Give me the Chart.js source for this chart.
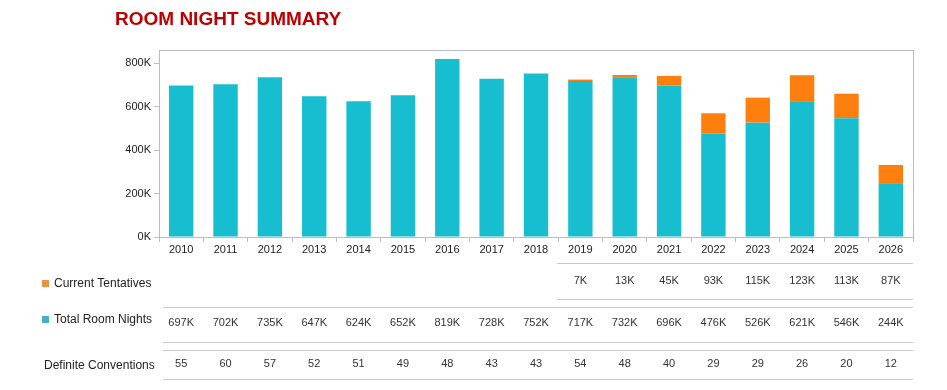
<!DOCTYPE html>
<html>
<head>
<meta charset="utf-8">
<script src="https://cdn.jsdelivr.net/npm/chart.js@4/dist/chart.umd.min.js"></script>
<style>
  body { margin: 0; background: #fff; }
  #wrap { position: relative; width: 947px; height: 390px; }
  #title {
    position: absolute; left: 115px; top: 8px; margin: 0;
    font: bold 19px "Liberation Sans", Arial, sans-serif;
    color: #c00000;
  }
  canvas { position: absolute; left: 0; top: 0; }
</style>
</head>
<body>
<div id="wrap">
  <canvas id="roomChart" width="947" height="390"></canvas>
  <h1 id="title">ROOM NIGHT SUMMARY</h1>
</div>
<script>
const years = ["2010","2011","2012","2013","2014","2015","2016","2017","2018","2019","2020","2021","2022","2023","2024","2025","2026"];
// values in thousands
const totalRoomNights = [697, 702, 735, 647, 624, 652, 819, 728, 752, 717, 732, 696, 476, 526, 621, 546, 244];
const currentTentatives = [null, null, null, null, null, null, null, null, null, 7, 13, 45, 93, 115, 123, 113, 87];
const definiteConventions = [55, 60, 57, 52, 51, 49, 48, 43, 43, 54, 48, 40, 29, 29, 26, 20, 12];
const yTicks = [0, 200, 400, 600, 800];

const teal = "#17becf";
const orange = "#ff7f0e";
const lineGray = "#c8c8c8";
const font = '"Liberation Sans", Arial, sans-serif';

// frame around the plot area + the summary table under it
const tablePlugin = {
  id: "tablePlugin",
  afterDraw(chart) {
    const ctx = chart.ctx;
    const area = chart.chartArea;
    const x = chart.scales.x;

    ctx.save();
    ctx.strokeStyle = "#bdbdbd";
    ctx.lineWidth = 1;
    ctx.strokeRect(area.left + 0.5, area.top + 0.5, area.right - area.left, area.bottom - area.top);

    const rowLine = (x0, y) => {
      ctx.strokeStyle = lineGray;
      ctx.beginPath();
      ctx.moveTo(x0, y + 0.5);
      ctx.lineTo(area.right, y + 0.5);
      ctx.stroke();
    };

    // Current Tentatives row
    const firstTent = currentTentatives.findIndex(v => v !== null);
    const tentLeft = x.getPixelForValue(firstTent) - (x.getPixelForValue(1) - x.getPixelForValue(0)) / 2 - 1;
    rowLine(tentLeft, 263);
    rowLine(tentLeft, 299);
    // Total Room Nights row
    rowLine(163, 307);
    rowLine(163, 342);
    // Definite Conventions row
    rowLine(163, 350);
    rowLine(163, 379);

    ctx.fillStyle = "#333";
    ctx.font = "11px " + font;
    ctx.textAlign = "center";
    ctx.textBaseline = "middle";
    years.forEach((yr, i) => {
      const px = x.getPixelForValue(i);
      if (currentTentatives[i] !== null) ctx.fillText(currentTentatives[i] + "K", px, 281);
      ctx.fillText(totalRoomNights[i] + "K", px, 323);
      ctx.fillText(String(definiteConventions[i]), px, 364);
    });

    // row labels
    ctx.font = "12px " + font;
    ctx.textAlign = "left";
    ctx.fillStyle = "#e8914a";
    ctx.fillRect(42, 280, 7, 7);
    ctx.fillStyle = "#4bacc6";
    ctx.fillRect(42, 316, 7, 7);
    ctx.fillStyle = "#222";
    ctx.fillText("Current Tentatives", 54, 284);
    ctx.fillText("Total Room Nights", 54, 320);
    ctx.fillText("Definite Conventions", 44, 366);
    ctx.restore();
  }
};

new Chart(document.getElementById("roomChart"), {
  type: "bar",
  data: {
    labels: years,
    datasets: [
      {
        label: "Total Room Nights",
        data: totalRoomNights.map(v => v * 1000),
        backgroundColor: teal,
        barPercentage: 0.55,
        categoryPercentage: 1
      },
      {
        label: "Current Tentatives",
        data: currentTentatives.map(v => v === null ? null : v * 1000),
        backgroundColor: orange,
        barPercentage: 0.55,
        categoryPercentage: 1
      }
    ]
  },
  options: {
    responsive: false,
    animation: false,
    layout: { padding: { top: 50, right: 34, bottom: 133, left: 0 } },
    plugins: {
      legend: { display: false },
      tooltip: { enabled: false }
    },
    scales: {
      x: {
        stacked: true,
        afterFit: s => { s.height = 20; },
        border: { color: "#bdbdbd" },
        grid: { drawOnChartArea: false, tickLength: 5, color: "#bdbdbd", offset: true },
        ticks: { color: "#222", font: { family: font, size: 11 }, padding: 1 }
      },
      y: {
        stacked: true,
        min: 0,
        max: 860000,
        afterFit: s => { s.width = 159; },
        afterBuildTicks: s => { s.ticks = yTicks.map(v => ({ value: v * 1000 })); },
        border: { color: "#bdbdbd" },
        grid: { drawOnChartArea: false, tickLength: 5, color: "#bdbdbd" },
        ticks: {
          color: "#222",
          font: { family: font, size: 11 },
          padding: 3,
          callback: v => (v / 1000) + "K"
        }
      }
    }
  },
  plugins: [tablePlugin]
});
</script>
</body>
</html>
